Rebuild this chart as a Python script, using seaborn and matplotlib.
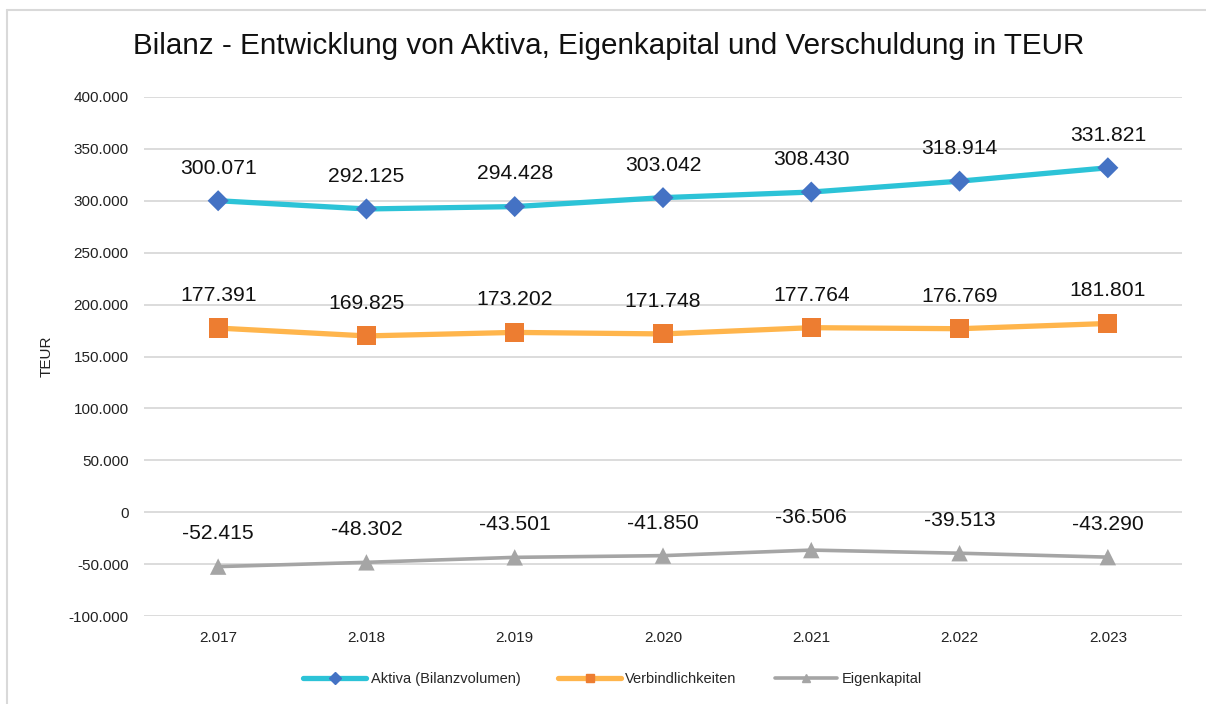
import matplotlib
matplotlib.use("Agg")
import matplotlib.pyplot as plt
import seaborn as sns
import numpy as np
import pandas as pd
from matplotlib.lines import Line2D
from matplotlib.ticker import FuncFormatter

sns.set_theme(style="white")
plt.rcParams['font.family'] = ['Liberation Sans', 'DejaVu Sans']

years = ["2.017", "2.018", "2.019", "2.020", "2.021", "2.022", "2.023"]
aktiva = [300071, 292125, 294428, 303042, 308430, 318914, 331821]
verbindlichkeiten = [177391, 169825, 173202, 171748, 177764, 176769, 181801]
eigenkapital = [-52415, -48302, -43501, -41850, -36506, -39513, -43290]

series_names = ["Aktiva (Bilanzvolumen)", "Verbindlichkeiten", "Eigenkapital"]
series_values = [aktiva, verbindlichkeiten, eigenkapital]
line_colors = ["#2CC3D7", "#FFB54C", "#A5A5A5"]
marker_colors = ["#4472C4", "#ED7D31", "#A5A5A5"]
markers = ["D", "s", "^"]
line_widths = [3.8, 3.8, 2.6]
marker_sizes = [115, 190, 140]

fig = plt.figure(figsize=(12.06, 7.04), dpi=100)
ax = fig.add_axes([144/1206, 1 - 616/704, (1182-144)/1206, (616-97)/704])

x = np.arange(len(years))
handles = []
for name, vals, lc, mc, mk, lw, ms in zip(series_names, series_values, line_colors,
                                           marker_colors, markers, line_widths, marker_sizes):
    df = pd.DataFrame({"x": x, "y": vals})
    sns.lineplot(data=df, x="x", y="y", ax=ax, color=lc, linewidth=lw, zorder=3)
    sns.scatterplot(data=df, x="x", y="y", ax=ax, color=mc, marker=mk, s=ms,
                    edgecolor="none", zorder=4)
    for xi, v in zip(x, vals):
        s = f"{v:,}".replace(",", ".")
        ax.annotate(s, (xi, v), xytext=(0, 23.5), textcoords="offset points",
                    ha="center", va="center", fontsize=15.2, color="#111111", zorder=5)
    handles.append(Line2D([0], [0], color=lc, linewidth=lw, marker=mk,
                          markerfacecolor=mc, markeredgecolor=mc, markersize=6))

ax.set_xlim(-0.5, len(years) - 0.5)
ax.set_ylim(-100000, 400000)
ax.set_yticks(np.arange(-100000, 400001, 50000))
ax.yaxis.set_major_formatter(FuncFormatter(
    lambda v, p: "0" if v == 0 else f"{int(v):,}".replace(",", ".")))
ax.set_xticks(x)
ax.set_xticklabels(years)
ax.tick_params(axis="y", labelsize=11, colors="#222222", length=0, pad=11)
ax.tick_params(axis="x", labelsize=11, colors="#222222", length=0, pad=11)
ax.grid(axis="y", color="#D9D9D9", linewidth=1.3)
ax.set_axisbelow(True)
for sp in ax.spines.values():
    sp.set_visible(False)
ax.set_xlabel("")
ax.set_ylabel("TEUR", fontsize=11, color="#222222")
ax.yaxis.set_label_coords(-0.087, 0.5)

fig.text(0.5 + 6/1206, 1 - 46/704, "Bilanz - Entwicklung von Aktiva, Eigenkapital und Verschuldung in TEUR",
         ha="center", va="center", fontsize=21.3, color="#111111")

fig.legend(handles=handles, labels=series_names, loc="center",
           bbox_to_anchor=(0.508, 1 - 679/704), ncol=3, frameon=False,
           fontsize=10.5, handlelength=4.3, columnspacing=2.6, handletextpad=0.3)

# chart border (top and left edges visible)
fig.add_artist(Line2D([7/1206, 7/1206], [0, 1 - 10/704], transform=fig.transFigure,
                      color="#D9D9D9", linewidth=1.5))
fig.add_artist(Line2D([7/1206, 1], [1 - 10/704, 1 - 10/704], transform=fig.transFigure,
                      color="#D9D9D9", linewidth=1.5))

fig.savefig("out.png", dpi=100, facecolor="white")
